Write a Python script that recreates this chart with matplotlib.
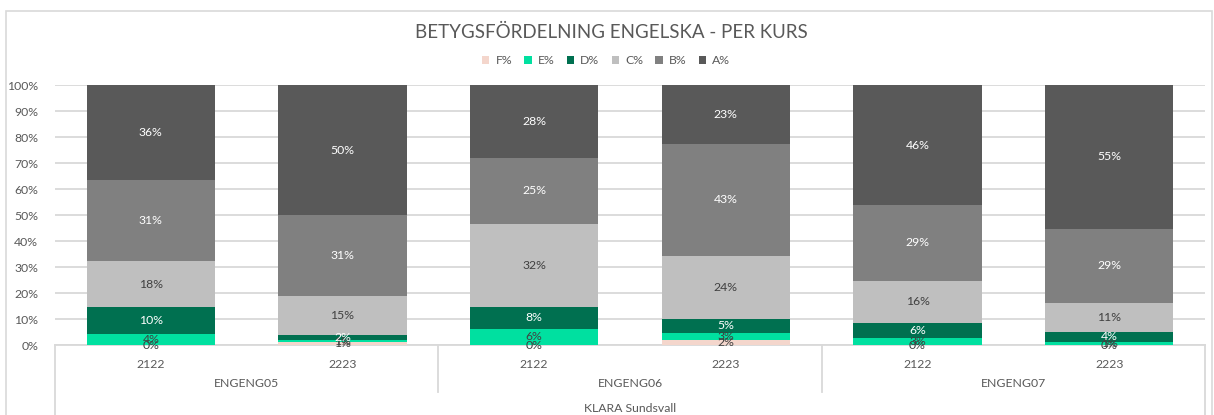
import matplotlib.pyplot as plt
import numpy as np
from matplotlib.patches import Rectangle
from matplotlib.lines import Line2D

# ---------- data ----------
years = ["2122", "2223", "2122", "2223", "2122", "2223"]
courses = ["ENGENG05", "ENGENG06", "ENGENG07"]
school = "KLARA Sundsvall"
grades = ["F%", "E%", "D%", "C%", "B%", "A%"]

f_pct = [0.0, 1.0, 0.0, 2.0, 0.0, 0.0]
e_pct = [4.3, 1.0, 6.2, 2.8, 2.8, 1.2]
d_pct = [10.2, 2.0, 8.5, 5.2, 5.8, 3.8]
c_pct = [17.9, 15.0, 32.0, 24.4, 16.2, 11.2]
b_pct = [31.2, 31.0, 25.1, 42.8, 29.0, 28.6]
a_pct = [36.4, 50.0, 28.2, 22.8, 46.2, 55.2]
series = [f_pct, e_pct, d_pct, c_pct, b_pct, a_pct]

colors = ["#F4D6CC", "#00E0A0", "#007050", "#BFBFBF", "#808080", "#595959"]
label_colors = ["#404040", "#404040", "white", "#404040", "white", "white"]

plt.rcParams["font.family"] = ["Lato", "DejaVu Sans"]
TXT = "#595959"
GRID = "#D9D9D9"
FS = 8.8

fig = plt.figure(figsize=(12.14, 4.15), dpi=100)
ax = fig.add_axes([55 / 1214, 1 - 345 / 415, 1150 / 1214, 260 / 415])

x = np.arange(len(years))
bottom = np.zeros(len(years))
handles = []
for vals, col, lc, name in zip(series, colors, label_colors, grades):
    vals = np.array(vals)
    h = ax.bar(x, vals, 0.67, bottom=bottom, color=col, label=name, zorder=3)
    handles.append(h)
    for xi, b, v in zip(x, bottom, vals):
        ax.text(xi, b + v / 2, f"{round(v):.0f}%", ha="center", va="center",
                fontsize=FS, color=lc, zorder=4)
    bottom += vals

ax.set_xlim(-0.5, len(years) - 0.5)
ax.set_ylim(0, 100)
ax.set_yticks(np.arange(0, 101, 10))
ax.set_yticklabels([f"{v}%" for v in range(0, 101, 10)], fontsize=FS, color=TXT)
ax.yaxis.grid(True, color=GRID, linewidth=1.3, zorder=0)
ax.tick_params(axis="y", length=0, pad=12)
ax.tick_params(axis="x", length=0, pad=10)
ax.set_xticks(x)
ax.set_xticklabels(years, fontsize=FS, color=TXT)
for s in ["top", "right", "left"]:
    ax.spines[s].set_visible(False)
ax.spines["bottom"].set_color(GRID)
ax.spines["bottom"].set_linewidth(1.3)

# multi-level category axis
tr = ax.get_xaxis_transform()
for i, c in enumerate(courses):
    ax.text(2 * i + 0.5, -38 / 260, c, transform=tr, ha="center", va="center",
            fontsize=FS, color=TXT)
for xs in [1.5, 3.5]:
    ax.add_line(Line2D([xs, xs], [0, -47 / 260], transform=tr, color=GRID,
                       linewidth=1.3, clip_on=False))
for xs in [-0.5, 5.5]:
    ax.add_line(Line2D([xs, xs], [0, -75 / 260], transform=tr, color=GRID,
                       linewidth=1.3, clip_on=False))
ax.text(2.5, -63 / 260, school, transform=tr, ha="center", va="center",
        fontsize=FS, color=TXT)

fig.text(611 / 1214, 1 - 32 / 415, "BETYGSFÖRDELNING ENGELSKA - PER KURS",
         ha="center", va="center", fontsize=13.5, color=TXT)
fig.legend(handles=handles, labels=grades, loc="center", ncol=6,
           bbox_to_anchor=(606 / 1214, 1 - 61 / 415), frameon=False,
           fontsize=FS, labelcolor=TXT, handlelength=0.6, handleheight=0.6,
           handletextpad=0.5, columnspacing=1.0)

fig.patches.append(Rectangle((6 / 1214, -0.05), 1206 / 1214, 1.05 - 11 / 415,
                             transform=fig.transFigure, fill=False,
                             edgecolor=GRID, linewidth=1.2))

fig.savefig("out.png", dpi=100)
